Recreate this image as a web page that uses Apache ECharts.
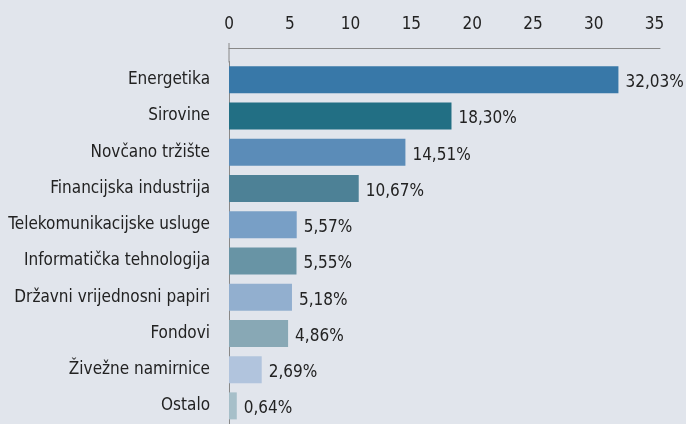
<!DOCTYPE html>
<html><head><meta charset="utf-8">
<script src="https://cdn.jsdelivr.net/npm/echarts@6/dist/echarts.min.js"></script>
<style>html,body{margin:0;padding:0;background:#e1e5ec}#c{width:686px;height:424px}</style>
</head><body><div id="c"></div>
<script>
const categories = ["Energetika","Sirovine","Novčano tržište","Financijska industrija","Telekomunikacijske usluge","Informatička tehnologija","Državni vrijednosni papiri","Fondovi","Živežne namirnice","Ostalo"];
const values = [32.03,18.30,14.51,10.67,5.57,5.55,5.18,4.86,2.69,0.64];
const valueLabels = ["32,03%","18,30%","14,51%","10,67%","5,57%","5,55%","5,18%","4,86%","2,69%","0,64%"];
const colors = ["#3878a8","#226f84","#5b8cb8","#4d8196","#789fc6","#6894a5","#92afcf","#88a8b5","#b1c4dd","#a6bfc9"];
const xTicks = [0,5,10,15,20,25,30,35];

const FONT = "'DejaVu Sans Condensed', sans-serif";
const chart = echarts.init(document.getElementById('c'));
const gridTop = 61.5;
chart.setOption({
  backgroundColor: '#e1e5ec',
  animation: false,
  grid: {left: 229, top: gridTop, width: 431, height: 370, containLabel: false},
  xAxis: {
    type: 'value', position: 'top', min: 0, max: 35.45, interval: 5, offset: 13.5,
    axisLine: {show: true, lineStyle: {color: '#888', width: 1}},
    axisTick: {show: false},
    splitLine: {show: false},
    axisLabel: {customValues: xTicks, margin: 15, color: '#222', fontFamily: FONT, fontSize: 17}
  },
  yAxis: {
    type: 'category', inverse: true, data: categories,
    axisLine: {show: true, lineStyle: {color: '#888', width: 1}},
    axisTick: {show: false},
    axisLabel: {margin: 19, color: '#222', fontFamily: FONT, fontSize: 17}
  },
  series: [{
    type: 'bar', barWidth: 27,
    data: values.map((v, i) => ({value: v, itemStyle: {color: colors[i]}})),
    label: {show: true, position: 'right', distance: 7, color: '#222', fontFamily: FONT, fontSize: 17,
      offset: [0, 3],
      formatter: p => valueLabels[p.dataIndex]}
  }]
});
const x0 = chart.convertToPixel({xAxisIndex: 0}, 0);
chart.setOption({graphic: [{type: 'line', silent: true,
  shape: {x1: x0, y1: 43, x2: x0, y2: gridTop + 1},
  style: {stroke: '#888', lineWidth: 1}}]});
</script></body></html>
